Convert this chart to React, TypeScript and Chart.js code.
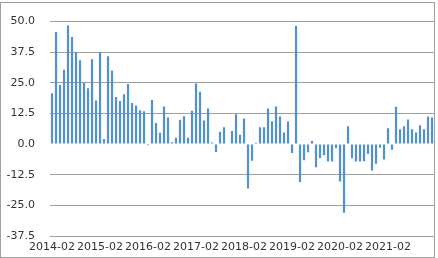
import React, { useEffect, useRef } from "react";
import { Chart, registerables } from "chart.js";

Chart.register(...registerables);

const startYear = 2014;
const startMonth = 2;
const values: number[] = [
  20.8, 45.8, 24.1, 30.3, 48.4, 43.7, 37.6, 34.2, 25.0, 22.8, 34.6, 17.8,
  37.5, 2.1, 35.9, 30.0, 19.2, 17.6, 20.4, 24.5, 16.8, 15.8, 13.8, 13.4,
  -0.5, 18.0, 8.6, 4.6, 15.4, 10.9, 0.8, 2.6, 9.9, 11.4, 2.6, 13.6,
  24.7, 21.4, 9.6, 14.5, 0.7, -3.2, 5.0, 6.9, 0.2, 5.4, 12.2, 3.8,
  10.5, -18.1, -6.8, 0.6, 6.9, 6.9, 14.5, 9.3, 15.3, 11.3, 4.7, 9.2,
  -3.6, 48.2, -15.5, -6.6, -3.3, 1.3, -9.4, -5.7, -4.5, -7.1, -7.1, -1.7,
  -15.3, -28.0, 7.3, -5.8, -7.1, -7.1, -7.0, -4.0, -10.8, -8.0, -1.5, -6.3,
  6.5, -2.3, 15.2, 6.1, 7.3, 10.0, 6.1, 4.7, 7.7, 6.1, 11.3, 10.9,
];
const categories: string[] = values.map((_, i) => {
  const m0 = startMonth - 1 + i;
  const y = startYear + Math.floor(m0 / 12);
  const m = (m0 % 12) + 1;
  return `${y}-${String(m).padStart(2, "0")}`;
});
const yMin = -37.5;
const yMax = 50;
const yStep = 12.5;
const labelEvery = 12;

const borderPlugin = {
  id: "outerBorder",
  afterDraw(chart: any) {
    const ctx = chart.ctx;
    ctx.save();
    ctx.strokeStyle = "#a0a0a0";
    ctx.lineWidth = 1;
    ctx.strokeRect(0.5, 2.5, 434, 255);
    ctx.restore();
  },
};

export default function App() {
  const ref = useRef<HTMLCanvasElement>(null);
  useEffect(() => {
    if (!ref.current) return;
    const chart = new Chart(ref.current, {
      type: "bar",
      data: {
        labels: categories,
        datasets: [
          {
            data: values,
            backgroundColor: "#5090d3",
            borderWidth: 0,
            barPercentage: 0.55,
            categoryPercentage: 1.0,
          },
        ],
      },
      options: {
        animation: false,
        responsive: false,
        maintainAspectRatio: false,
        layout: { padding: { top: 16, right: 4, left: 0, bottom: 0 } },
        plugins: { legend: { display: false }, tooltip: { enabled: false } },
        scales: {
          x: {
            grid: { display: false, drawTicks: false },
            border: { display: false },
            ticks: {
              autoSkip: false,
              maxRotation: 0,
              minRotation: 0,
              padding: 5,
              color: "#333",
              font: { family: "DejaVu Sans", size: 11 },
              callback: (_v: any, i: number) =>
                i % labelEvery === 0 ? categories[i] : null,
            },
            afterFit: (s: any) => {
              s.height = 22;
            },
          },
          y: {
            min: yMin,
            max: yMax,
            border: { display: false },
            grid: {
              drawTicks: false,
              color: (c: any) =>
                c.tick && c.tick.value === 0 ? "rgba(0,0,0,0)" : "#a0a0a0",
            },
            ticks: {
              stepSize: yStep,
              padding: 15,
              color: "#333",
              font: { family: "DejaVu Sans", size: 11 },
              callback: (v: any) => Number(v).toFixed(1),
            },
            afterFit: (s: any) => {
              s.width = 50;
            },
          },
        },
      },
      plugins: [borderPlugin],
    });
    return () => chart.destroy();
  }, []);
  return (
    <div style={{ position: "fixed", left: 0, top: 0, width: 438, height: 258, background: "#fff" }}>
      <canvas ref={ref} width={438} height={258} style={{ display: "block" }} />
    </div>
  );
}
